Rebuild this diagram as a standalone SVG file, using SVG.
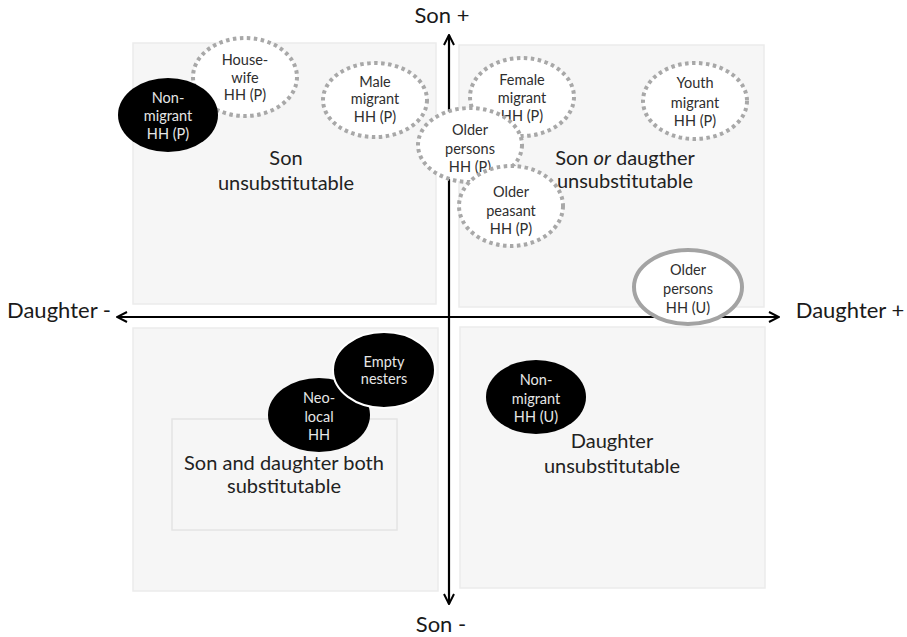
<svg xmlns="http://www.w3.org/2000/svg" width="907" height="637" viewBox="0 0 907 637">
<defs>
<style>
.quad{fill:#f6f6f6;stroke:#ebebeb;stroke-width:1.5}
.inner{fill:#f6f6f6;stroke:#e4e4e4;stroke-width:1.5}
.dot{fill:#ffffff;stroke:#a8a8a8;stroke-width:4;stroke-dasharray:3.5 3.5}
.solidg{fill:#ffffff;stroke:#a3a3a3;stroke-width:4}
.blk{fill:#000000}
.blkw{fill:#000000;stroke:#ffffff;stroke-width:2}
.t{font-family:Lato,"Open Sans","Liberation Sans",sans-serif;text-anchor:middle}
.small{font-size:14.5px;fill:#2e2e2e}
.smallw{font-size:14.5px;fill:#e6e6e6}
.ql{font-size:20px;fill:#222222}
.ax{font-size:22px;fill:#1a1a1a}
.axis{stroke:#000000;stroke-width:2.2;fill:none}
</style>
<marker id="arr" viewBox="0 0 12 12" refX="11" refY="6" markerWidth="12" markerHeight="12" markerUnits="userSpaceOnUse" orient="auto-start-reverse">
<path d="M1,1 L11,6 L1,11" fill="none" stroke="#000000" stroke-width="2"/>
</marker>
</defs>
<rect width="907" height="637" fill="#ffffff"/>

<g id="quadrants">
<rect class="quad" x="133" y="43" width="303" height="261"/>
<rect class="quad" x="459" y="45" width="305" height="262"/>
<rect class="quad" x="133" y="328" width="305" height="263"/>
<rect class="quad" x="460" y="327" width="305" height="261"/>
<rect class="inner" x="172" y="419" width="225" height="111"/>
</g>

<g id="connectors">
<line class="axis" x1="449" y1="604" x2="449" y2="35" marker-start="url(#arr)" marker-end="url(#arr)"/>
<line class="axis" x1="117" y1="317" x2="779" y2="317" marker-start="url(#arr)" marker-end="url(#arr)"/>
</g>

<g id="axis-labels">
<text class="t ax" x="442" y="23">Son +</text>
<text class="t ax" x="441" y="632">Son -</text>
<text class="t ax" x="59" y="318">Daughter -</text>
<text class="t ax" x="850" y="318">Daughter +</text>
</g>

<g id="quadrant-labels">
<text class="t ql" x="286" y="165">Son</text>
<text class="t ql" x="286" y="190">unsubstitutable</text>
<text class="t ql" x="625" y="165">Son <tspan font-style="italic">or</tspan> daugther</text>
<text class="t ql" x="625" y="188">unsubstitutable</text>
<text class="t ql" x="284" y="470">Son and daughter both</text>
<text class="t ql" x="284" y="493">substitutable</text>
<text class="t ql" x="612" y="448">Daughter</text>
<text class="t ql" x="612" y="473">unsubstitutable</text>
</g>

<g id="housewife-hh-p">
<ellipse class="dot" cx="245" cy="77" rx="52" ry="39"/>
<text class="t small" x="245" y="65">House-</text>
<text class="t small" x="245" y="83">wife</text>
<text class="t small" x="245" y="100">HH (P)</text>
</g>

<g id="nonmigrant-hh-p">
<ellipse class="blk" cx="168" cy="115" rx="50" ry="37"/>
<text class="t smallw" x="168" y="103">Non-</text>
<text class="t smallw" x="168" y="121">migrant</text>
<text class="t smallw" x="168" y="139">HH (P)</text>
</g>

<g id="male-migrant-hh-p">
<ellipse class="dot" cx="375" cy="100" rx="52" ry="37"/>
<text class="t small" x="375" y="87">Male</text>
<text class="t small" x="375" y="104">migrant</text>
<text class="t small" x="375" y="122">HH (P)</text>
</g>

<g id="female-migrant-hh-p">
<ellipse class="dot" cx="522" cy="97" rx="52" ry="39"/>
<text class="t small" x="522" y="85">Female</text>
<text class="t small" x="522" y="103">migrant</text>
<text class="t small" x="522" y="121">HH (P)</text>
</g>

<g id="youth-migrant-hh-p">
<ellipse class="dot" cx="695" cy="101" rx="52" ry="38"/>
<text class="t small" x="695" y="88">Youth</text>
<text class="t small" x="695" y="108">migrant</text>
<text class="t small" x="695" y="126">HH (P)</text>
</g>

<g id="older-persons-hh-p">
<ellipse class="dot" cx="470" cy="145" rx="52" ry="37"/>
<text class="t small" x="470" y="135">Older</text>
<text class="t small" x="470" y="154">persons</text>
<text class="t small" x="470" y="172">HH (P)</text>
</g>

<g id="older-peasant-hh-p">
<ellipse class="dot" cx="511" cy="206" rx="52" ry="40"/>
<text class="t small" x="511" y="197">Older</text>
<text class="t small" x="511" y="216">peasant</text>
<text class="t small" x="511" y="234">HH (P)</text>
</g>

<g id="older-persons-hh-u">
<ellipse class="solidg" cx="688" cy="287" rx="54" ry="37"/>
<text class="t small" x="688" y="275">Older</text>
<text class="t small" x="688" y="294">persons</text>
<text class="t small" x="688" y="313">HH (U)</text>
</g>

<g id="neolocal-hh">
<ellipse class="blk" cx="319" cy="415" rx="51" ry="37"/>
<text class="t smallw" x="319" y="403">Neo-</text>
<text class="t smallw" x="319" y="422">local</text>
<text class="t smallw" x="319" y="440">HH</text>
</g>

<g id="empty-nesters">
<ellipse class="blkw" cx="384" cy="370" rx="51" ry="38"/>
<text class="t smallw" x="384" y="367">Empty</text>
<text class="t smallw" x="384" y="384">nesters</text>
</g>

<g id="nonmigrant-hh-u">
<ellipse class="blk" cx="536" cy="397" rx="50" ry="37"/>
<text class="t smallw" x="536" y="385">Non-</text>
<text class="t smallw" x="536" y="404">migrant</text>
<text class="t smallw" x="536" y="422">HH (U)</text>
</g>
</svg>
